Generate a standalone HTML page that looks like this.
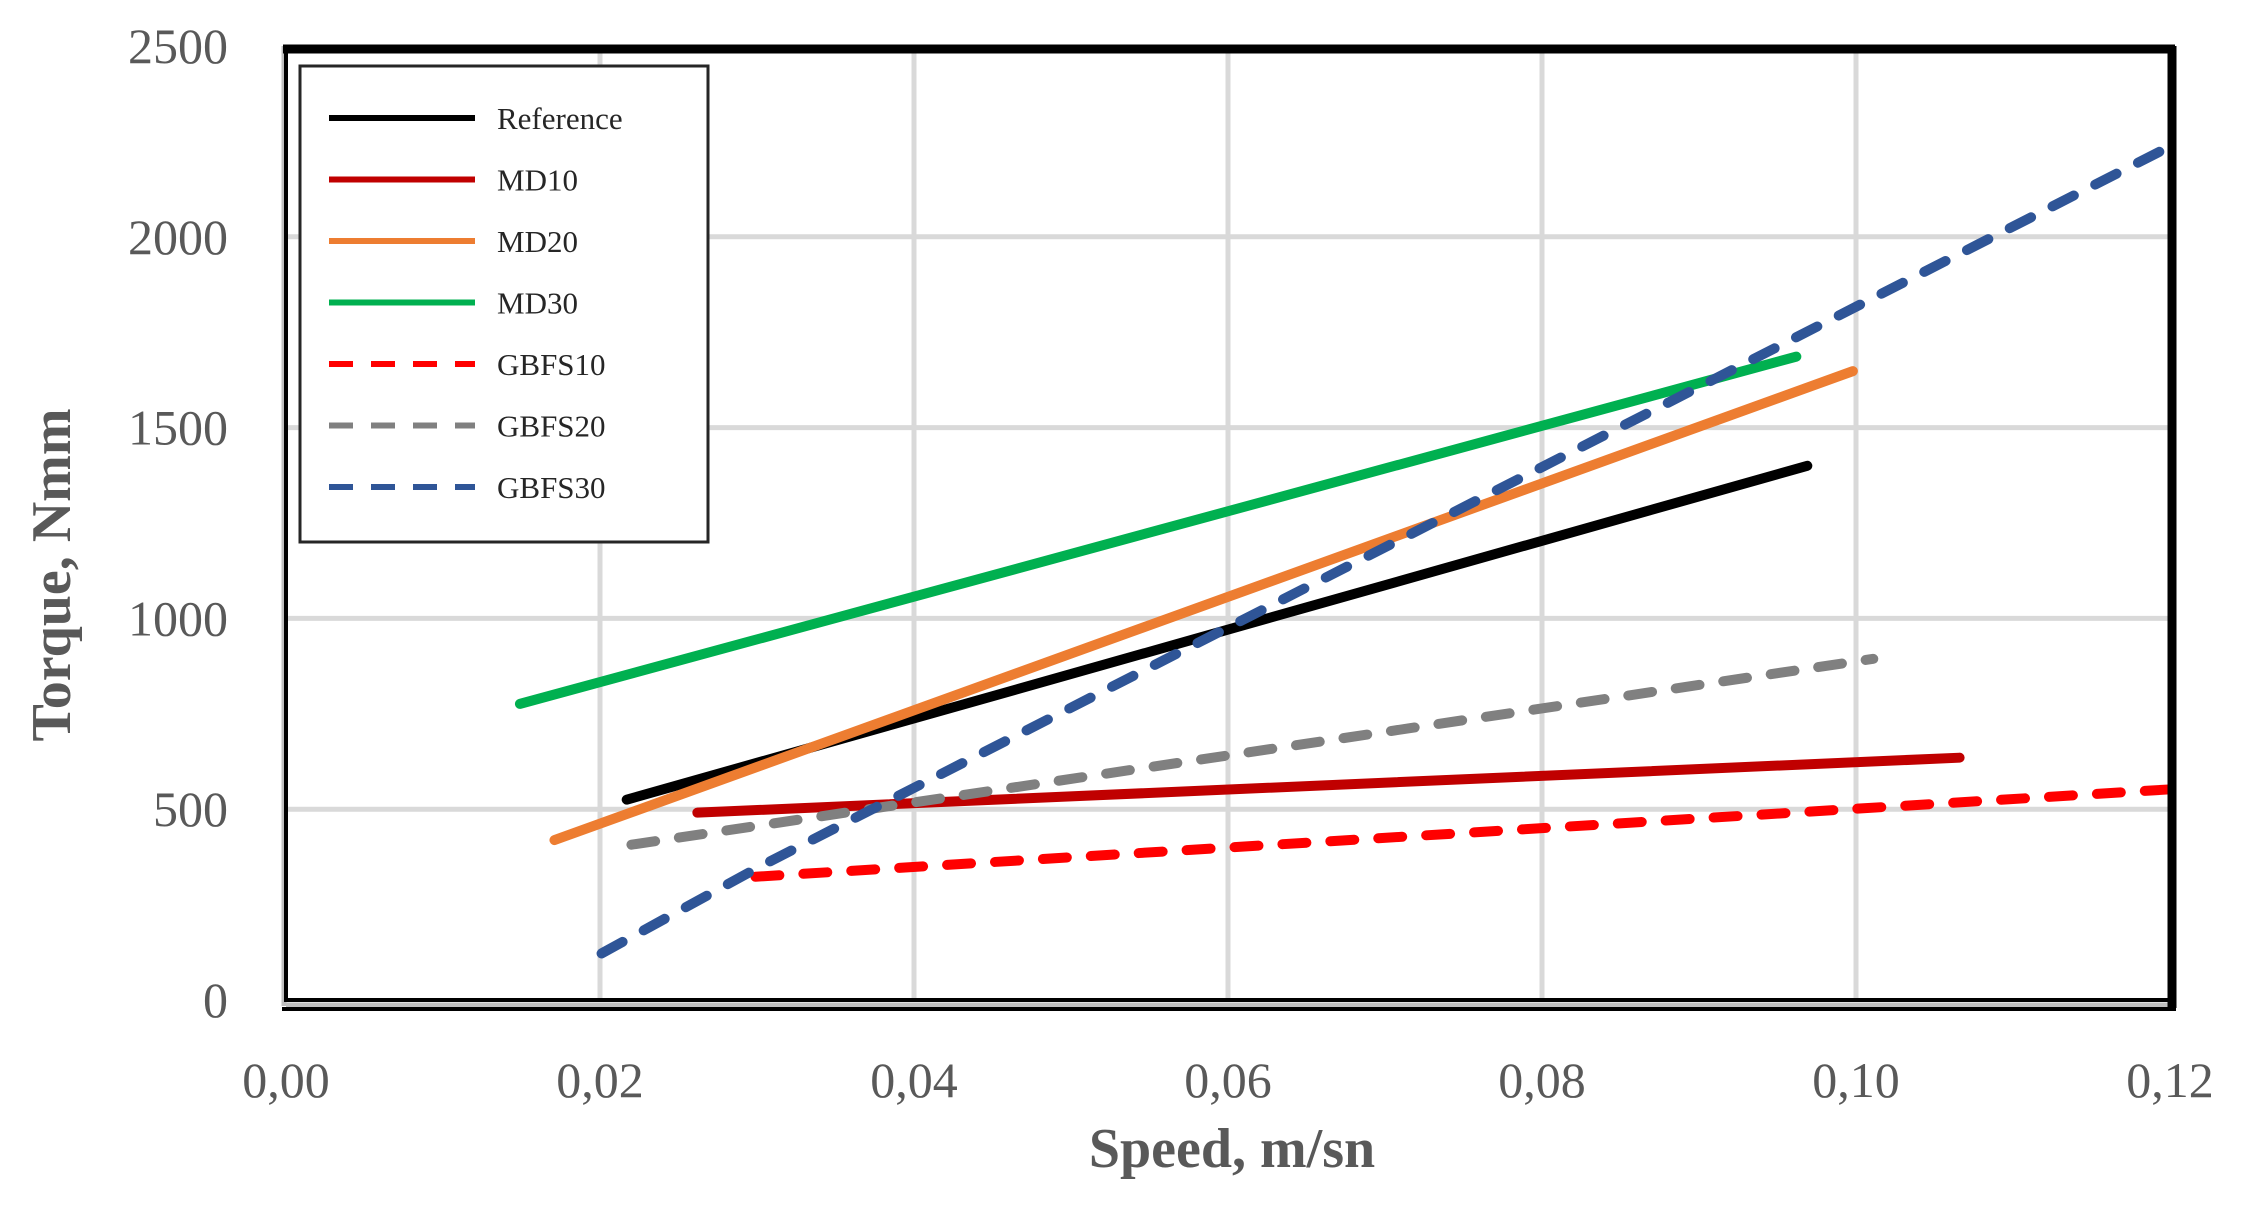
<!DOCTYPE html>
<html><head><meta charset="utf-8"><style>
html,body{margin:0;padding:0;background:#fff;}
svg{display:block;}
text{font-family:"Liberation Serif",serif;}
</style></head><body>
<svg id="chart" width="2260" height="1214" viewBox="0 0 2260 1214" xmlns="http://www.w3.org/2000/svg">
<g id="grid"></g>
<g id="series"></g>
<g id="frame"></g>
<g id="ticks"></g>
<text x="1232" y="1167" text-anchor="middle" font-size="56" font-weight="bold" fill="#595959">Speed, m/sn</text>
<text transform="translate(70,575) rotate(-90)" text-anchor="middle" font-size="56" font-weight="bold" fill="#595959">Torque, Nmm</text>
<g id="legend"></g>
</svg>
<script>
const xTicks = [0, 0.02, 0.04, 0.06, 0.08, 0.10, 0.12];
const xTickLabels = ["0,00","0,02","0,04","0,06","0,08","0,10","0,12"];
const yTicks = [0, 500, 1000, 1500, 2000, 2500];
const yTickLabels = ["0","500","1000","1500","2000","2500"];
const seriesNames = ["Reference","MD10","MD20","MD30","GBFS10","GBFS20","GBFS30"];
const refX = [0.0217, 0.0969];   const refY = [525, 1400];
const md10X = [0.0262, 0.1066];  const md10Y = [491, 635];
const md20X = [0.0171, 0.0998];  const md20Y = [419, 1648];
const md30X = [0.0149, 0.0962];  const md30Y = [776, 1686];
const gb10X = [0.0299, 0.12];    const gb10Y = [323, 552];
const gb20X = [0.022, 0.1011];   const gb20Y = [407, 894];
const gb30X = [0.0201, 0.0302, 0.12]; const gb30Y = [122, 350, 2237];

const X0=286, X1=2170, Y0=1000, Y1=46;
const sx = v => X0 + v/0.12*(X1-X0);
const sy = v => Y0 - v/2500*(Y0-Y1);
const NS="http://www.w3.org/2000/svg";
function mk(tag, parent, attrs){const e=document.createElementNS(NS,tag);for(const k in attrs)e.setAttribute(k,attrs[k]);parent.appendChild(e);return e;}

const grid=document.getElementById('grid');
xTicks.forEach((t,i)=>{ if(i===0||i===xTicks.length-1) return;
  const l=mk('line',grid,{x1:sx(t),x2:sx(t),y1:Y1,y2:Y0,stroke:'#d9d9d9','stroke-width':5});
  
  
});
yTicks.forEach((t,i)=>{ if(i===0||i===yTicks.length-1) return;
  const l=mk('line',grid,{x1:X0,x2:X1,y1:sy(t),y2:sy(t),stroke:'#d9d9d9','stroke-width':5});
  
  
});

const ticks=document.getElementById('ticks');
xTicks.forEach((t,i)=>{
  const e=mk('text',ticks,{x:sx(t),y:1097,'text-anchor':'middle','font-size':50,fill:'#595959'});
  e.textContent=xTickLabels[i];
  
  
});
yTicks.forEach((t,i)=>{
  const e=mk('text',ticks,{x:228,y:sy(t)+17,'text-anchor':'end','font-size':50,fill:'#595959'});
  e.textContent=yTickLabels[i];
  
  
});

const seriesDefs=[
 [refX,refY,'#000000',null],[md10X,md10Y,'#c00000',null],[md20X,md20Y,'#ed7d31',null],
 [md30X,md30Y,'#00b050',null],[gb10X,gb10Y,'#ff0000','24 24'],[gb20X,gb20Y,'#808080','24 24'],
 [gb30X,gb30Y,'#2f5597','24 24']];
const sg=document.getElementById('series');
seriesDefs.forEach((d,i)=>{
  const pts=d[0].map((x,j)=>sx(x)+','+sy(d[1][j])).join(' ');
  const a={points:pts,fill:'none',stroke:d[2],'stroke-width':10,'stroke-linecap':'round','stroke-linejoin':'round'};
  if(d[3]) a['stroke-dasharray']=d[3];
  const p=mk('polyline',sg,a);
  
  
});

const fr=document.getElementById('frame');
mk('line',fr,{x1:X0-2,x2:X0-2,y1:Y1,y2:Y0+6,stroke:'#bfbfbf','stroke-width':5});
mk('line',fr,{x1:X0,x2:X1+3,y1:Y0+5,y2:Y0+5,stroke:'#bfbfbf','stroke-width':5});
mk('rect',fr,{x:X0,y:Y1+3,width:X1-X0,height:Y0-Y1-3,fill:'none',stroke:'#000','stroke-width':4});
mk('line',fr,{x1:X0-3,x2:X1+5,y1:Y1+3,y2:Y1+3,stroke:'#000','stroke-width':9});
mk('line',fr,{x1:X1+2,x2:X1+2,y1:Y1,y2:Y0+8,stroke:'#000','stroke-width':9});
mk('line',fr,{x1:X0-4,x2:X1+6,y1:Y0+9,y2:Y0+9,stroke:'#000','stroke-width':4});

const lg=document.getElementById('legend');
const box=mk('rect',lg,{x:300,y:66,width:408,height:476,fill:'#fff',stroke:'#262626','stroke-width':3});


seriesDefs.forEach((d,i)=>{
  const y=118+i*61.5;
  const g=mk('g',lg,{});
  
  
  const a={x1:329,x2:475,y1:y,y2:y,stroke:d[2],'stroke-width':6};
  if(d[3]) a['stroke-dasharray']='24 18';
  mk('line',g,a);
  const t=mk('text',g,{x:497,y:y+11,'font-size':31,fill:'#262626'});
  t.textContent=seriesNames[i];
});
</script>
</body></html>
